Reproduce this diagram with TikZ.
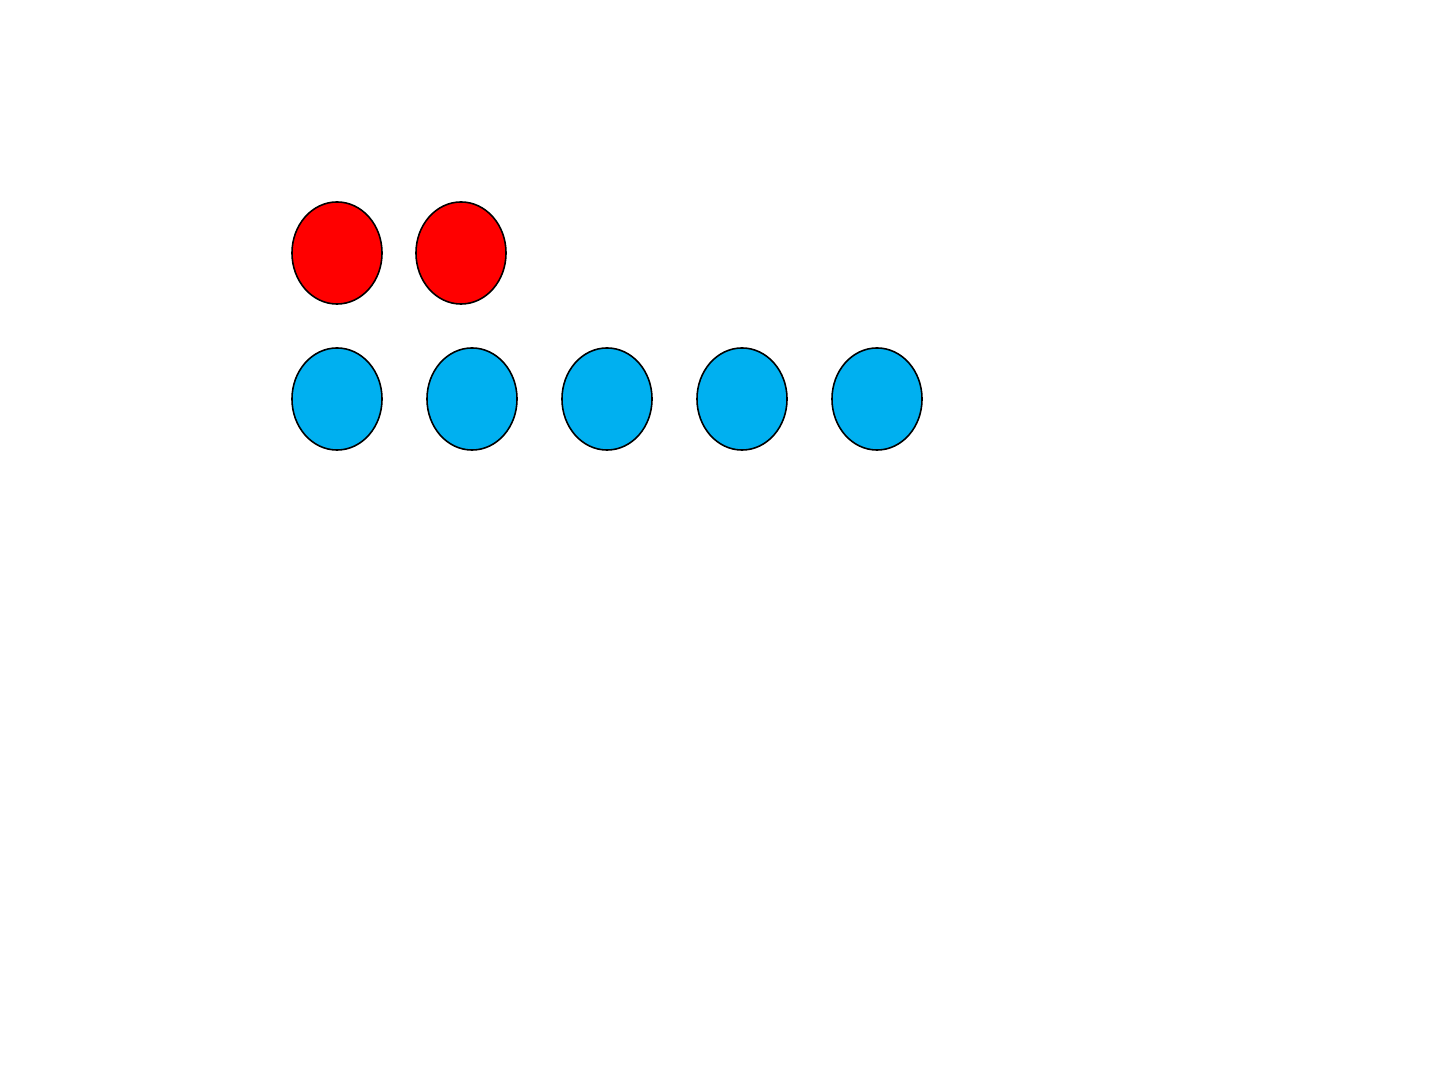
\documentclass[tikz,border=0pt]{standalone}
\usetikzlibrary{shapes.geometric}
\definecolor{dotred}{HTML}{FF0000}
\definecolor{dotblue}{HTML}{00B0F0}
\begin{document}
\begin{tikzpicture}[x=0.01cm,y=-0.01cm,
  dot/.style={ellipse,draw=black,line width=0.45pt,minimum width=0.9cm,minimum height=1.02cm,inner sep=0pt},
  reddot/.style={dot,fill=dotred},
  bluedot/.style={dot,fill=dotblue}]
\path[use as bounding box,fill=white] (0,0) rectangle (1440,1080);
\node[reddot] (r1) at (337,253) {};
\node[reddot] (r2) at (461,253) {};
\node[bluedot] (b1) at (337,399) {};
\node[bluedot] (b2) at (472,399) {};
\node[bluedot] (b3) at (607,399) {};
\node[bluedot] (b4) at (742,399) {};
\node[bluedot] (b5) at (877,399) {};
\end{tikzpicture}
\end{document}
